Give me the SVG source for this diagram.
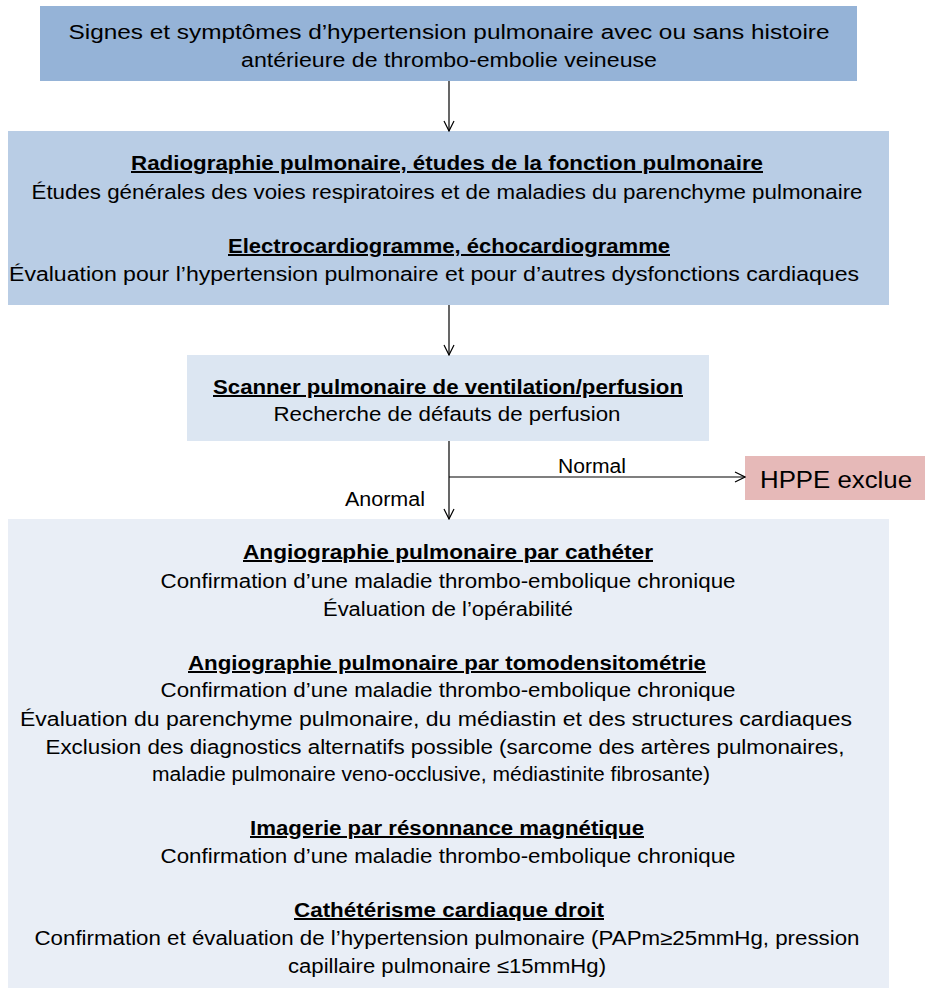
<svg xmlns="http://www.w3.org/2000/svg" width="925" height="988" viewBox="0 0 925 988">
<style>
text{font-family:"Liberation Sans",Arial,sans-serif;font-size:20px;fill:#000;text-anchor:middle}
.b{font-weight:bold;text-decoration:underline}
.c{stroke:#000;stroke-width:1.2;fill:none}
</style>
<defs>
<marker id="ah" viewBox="0 0 12 12" refX="11" refY="6" markerWidth="12" markerHeight="12" markerUnits="userSpaceOnUse" orient="auto">
<path d="M1,1 L11,6 L1,11" fill="none" stroke="#000" stroke-width="1.2"/>
</marker>
</defs>
<rect width="925" height="988" fill="#fff"/>
<g id="n1">
<rect x="40" y="6" width="817" height="75" fill="#95b3d7"/>
<text x="449" y="39" textLength="761" lengthAdjust="spacingAndGlyphs">Signes et symptômes  d’hypertension pulmonaire avec ou sans histoire</text>
<text x="449" y="67" textLength="416" lengthAdjust="spacingAndGlyphs">antérieure de thrombo-embolie  veineuse</text>
</g>
<g id="n2">
<rect x="8" y="131" width="881" height="174" fill="#b9cde5"/>
<text class="b" x="447" y="170" textLength="632" lengthAdjust="spacingAndGlyphs">Radiographie  pulmonaire,  études de la fonction pulmonaire</text>
<text x="447" y="199" textLength="831" lengthAdjust="spacingAndGlyphs">Études  générales  des  voies  respiratoires  et de  maladies  du  parenchyme  pulmonaire</text>
<text class="b" x="449" y="253" textLength="442" lengthAdjust="spacingAndGlyphs">Electrocardiogramme,  échocardiogramme</text>
<text x="434" y="281" textLength="850" lengthAdjust="spacingAndGlyphs">Évaluation  pour l’hypertension  pulmonaire  et pour d’autres  dysfonctions  cardiaques</text>
</g>
<g id="n3">
<rect x="187" y="355" width="522" height="86" fill="#dce6f2"/>
<text class="b" x="448" y="394" textLength="470" lengthAdjust="spacingAndGlyphs">Scanner pulmonaire  de ventilation/perfusion</text>
<text x="447" y="421" textLength="347" lengthAdjust="spacingAndGlyphs">Recherche de défauts  de perfusion</text>
</g>
<g id="n4">
<rect x="745" y="456" width="180" height="44" fill="#e6b9b8"/>
<text x="836" y="488" style="font-size:24px" textLength="152" lengthAdjust="spacingAndGlyphs">HPPE exclue</text>
</g>
<g id="n5">
<rect x="8" y="519" width="881" height="469" fill="#e9eef6"/>
<text class="b" x="448" y="559" textLength="410" lengthAdjust="spacingAndGlyphs">Angiographie  pulmonaire  par cathéter</text>
<text x="448" y="588" textLength="575" lengthAdjust="spacingAndGlyphs">Confirmation  d’une maladie  thrombo-embolique  chronique</text>
<text x="448" y="616" textLength="250" lengthAdjust="spacingAndGlyphs">Évaluation  de l’opérabilité</text>
<text class="b" x="447" y="670" textLength="518" lengthAdjust="spacingAndGlyphs">Angiographie  pulmonaire  par tomodensitométrie</text>
<text x="448" y="697" textLength="575" lengthAdjust="spacingAndGlyphs">Confirmation  d’une maladie  thrombo-embolique  chronique</text>
<text x="436" y="726" textLength="832" lengthAdjust="spacingAndGlyphs">Évaluation  du parenchyme pulmonaire,  du médiastin  et des structures  cardiaques</text>
<text x="445" y="754" textLength="799" lengthAdjust="spacingAndGlyphs">Exclusion  des diagnostics  alternatifs  possible  (sarcome des artères pulmonaires,</text>
<text x="431" y="781" textLength="558" lengthAdjust="spacingAndGlyphs">maladie  pulmonaire  veno-occlusive,  médiastinite  fibrosante)</text>
<text class="b" x="447" y="835" textLength="394" lengthAdjust="spacingAndGlyphs">Imagerie  par résonnance  magnétique</text>
<text x="448" y="863" textLength="575" lengthAdjust="spacingAndGlyphs">Confirmation  d’une maladie  thrombo-embolique  chronique</text>
<text class="b" x="449" y="917" textLength="310" lengthAdjust="spacingAndGlyphs">Cathétérisme  cardiaque  droit</text>
<text x="447" y="945" textLength="825" lengthAdjust="spacingAndGlyphs">Confirmation  et évaluation  de l’hypertension  pulmonaire  (PAPm≥25mmHg,  pression</text>
<text x="447" y="973" textLength="318" lengthAdjust="spacingAndGlyphs">capillaire  pulmonaire  ≤15mmHg)</text>
</g>
<g id="connectors">
<line class="c" x1="449" y1="81" x2="449" y2="131" marker-end="url(#ah)"/>
<line class="c" x1="449" y1="305" x2="449" y2="355" marker-end="url(#ah)"/>
<line class="c" x1="449" y1="441" x2="449" y2="519" marker-end="url(#ah)"/>
<line class="c" x1="449" y1="477" x2="745" y2="477" marker-end="url(#ah)"/>
<text x="592" y="473" textLength="68" lengthAdjust="spacingAndGlyphs">Normal</text>
<text x="385" y="506" textLength="80" lengthAdjust="spacingAndGlyphs">Anormal</text>
</g>
</svg>
